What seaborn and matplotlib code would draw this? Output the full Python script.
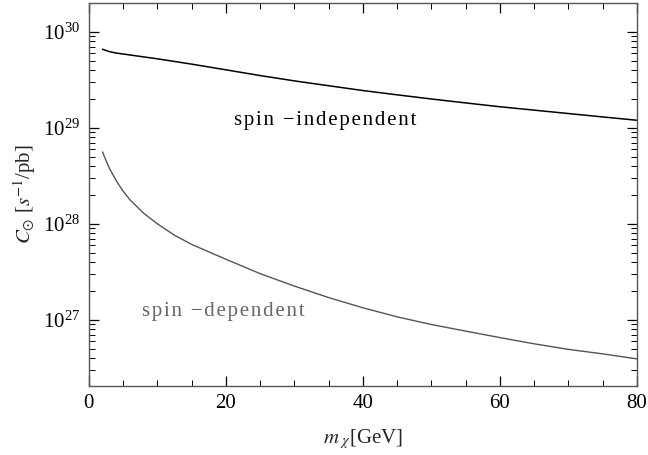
import numpy as np
import pandas as pd
import matplotlib
matplotlib.use("Agg")
import matplotlib.pyplot as plt
import matplotlib.ticker as mticker
import seaborn as sns

# dark matter mass (GeV) and capture rates (s^-1/pb)
mass_si = [2, 3, 4, 5, 7.5, 10, 15, 20, 25, 30, 35, 40, 45, 50, 55, 60, 65, 70, 75, 80]
rate_si = [6.61e29, 6.24e29, 6.03e29, 5.89e29, 5.56e29, 5.25e29, 4.62e29, 4.03e29,
           3.51e29, 3.09e29, 2.75e29, 2.45e29, 2.21e29, 2.00e29, 1.82e29, 1.66e29,
           1.53e29, 1.41e29, 1.30e29, 1.20e29]

mass_sd = [2, 2.5, 3, 4, 5, 6, 8, 10, 12.5, 15, 17.5, 20, 25, 30, 35, 40, 45, 50,
           55, 60, 65, 70, 75, 80]
rate_sd = [5.62e28, 4.6e28, 3.80e28, 2.82e28, 2.19e28, 1.78e28, 1.29e28, 1.0e28,
           7.6e27, 6.1e27, 5.1e27, 4.27e27, 3.02e27, 2.24e27, 1.70e27, 1.33e27,
           1.07e27, 8.9e26, 7.6e26, 6.5e26, 5.6e26, 4.9e26, 4.4e26, 3.9e26]

df_si = pd.DataFrame({"mass": mass_si, "rate": rate_si})
df_sd = pd.DataFrame({"mass": mass_sd, "rate": rate_sd})

sns.set_theme(style="ticks")
plt.rcParams["font.family"] = ["Liberation Serif", "DejaVu Serif"]
plt.rcParams["mathtext.fontset"] = "stix"

fig = plt.figure(figsize=(6.48, 4.55), dpi=100)
ax = fig.add_axes([0.137, 0.152, 0.846, 0.841])

sns.lineplot(data=df_si, x="mass", y="rate", ax=ax, color="black", lw=1.1)
sns.lineplot(data=df_sd, x="mass", y="rate", ax=ax, color="#555555", lw=1.0)

ax.set_yscale("log")
ax.set_xlim(0, 80)
ax.set_ylim(10**26.31, 10**30.30)

ax.xaxis.set_major_locator(mticker.MultipleLocator(20))
ax.xaxis.set_minor_locator(mticker.MultipleLocator(5))
ax.yaxis.set_major_locator(mticker.LogLocator(base=10, numticks=10))
ax.yaxis.set_minor_locator(mticker.LogLocator(base=10, subs=np.arange(2, 10), numticks=20))
ax.yaxis.set_minor_formatter(mticker.NullFormatter())

ax.tick_params(which="both", direction="in", top=True, right=True,
               colors="black", labelsize=15, pad=6)
ax.tick_params(which="major", length=7, width=0.9)
ax.tick_params(which="minor", length=4, width=0.7)
for sp in ax.spines.values():
    sp.set_color("#555555")
    sp.set_linewidth(1.0)

ax.set_xlabel(r"$m_{\ \chi}$[GeV]", fontsize=15, labelpad=10)
ax.set_ylabel(r"$C_{\odot}$ [$s^{-1}$/pb]", fontsize=15, labelpad=4)


def spaced(s):
    # loose letter spacing like the original
    return "\u200a".join(s)


ax.text(34.5, 1.19e29, spaced("spin \u2212independent"), fontsize=15, color="black",
        ha="center", va="center")
ax.text(19.6, 1.22e27, spaced("spin \u2212dependent"), fontsize=15, color="#666666",
        ha="center", va="center")

fig.savefig("out.png", dpi=100)
